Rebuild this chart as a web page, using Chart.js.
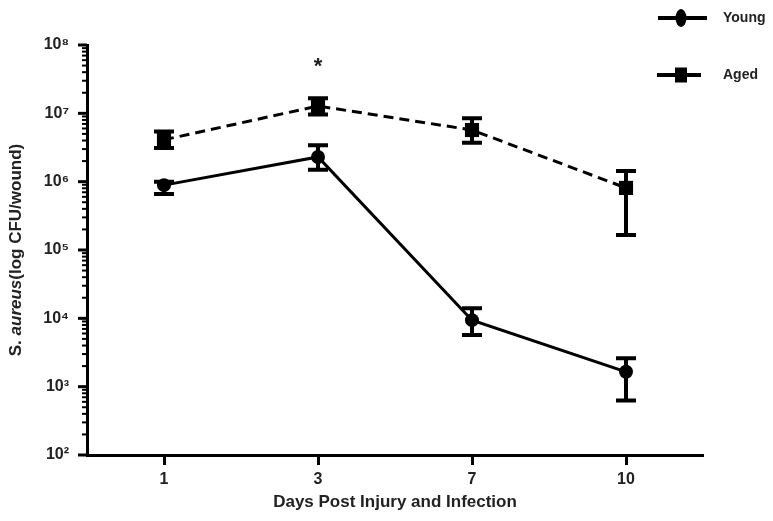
<!DOCTYPE html>
<html><head><meta charset="utf-8">
<script src="https://cdn.jsdelivr.net/npm/chart.js@4/dist/chart.umd.min.js"></script>
<style>html,body{margin:0;padding:0;background:#fff}#wrap{width:773px;height:521px}</style>
</head><body><div id="wrap"><canvas id="c" width="773" height="521"></canvas></div>
<script>
// ---- data ----
const days = ['1', '3', '7', '10'];
const seriesNames = ['Young', 'Aged'];
const young = [8.9e5, 2.3e6, 9.4e3, 1.65e3];
const youngLow = [6.6e5, 1.5e6, 5.7e3, 6.3e2];
const youngHigh = [1.0e6, 3.4e6, 1.4e4, 2.6e3];
const aged = [4.1e6, 1.28e7, 5.7e6, 8.1e5];
const agedLow = [3.1e6, 9.6e6, 3.7e6, 1.66e5];
const agedHigh = [5.4e6, 1.66e7, 8.5e6, 1.43e6];
const significance = ['', '*', '', ''];
const yMin = 1e2, yMax = 1e8;
const xTitle = 'Days Post Injury and Infection';
const yTitleParts = [['S. ', 'normal'], ['aureus', 'italic'], ['(log CFU/wound)', 'normal']];

const FONT = '"Liberation Sans", Arial, sans-serif';
const TXT = '#222';
const SUP = {'0':'⁰','1':'¹','2':'²','3':'³','4':'⁴','5':'⁵','6':'⁶','7':'⁷','8':'⁸','9':'⁹','-':'⁻'};
const toSup = s => String(s).split('').map(c => SUP[c] || c).join('');
const isDecade = v => Math.abs(Math.log10(v) - Math.round(Math.log10(v))) < 1e-9;

const errors = [[youngLow, youngHigh], [agedLow, agedHigh]];

const errorBarPlugin = {
  id: 'errorBars',
  afterDatasetsDraw(chart) {
    const ctx = chart.ctx, ys = chart.scales.y;
    ctx.save();
    ctx.strokeStyle = '#000';
    chart.data.datasets.forEach((ds, i) => {
      const meta = chart.getDatasetMeta(i);
      const [lo, hi] = errors[i];
      meta.data.forEach((pt, j) => {
        const x = pt.x;
        const y1 = ys.getPixelForValue(lo[j]);
        const y2 = ys.getPixelForValue(hi[j]);
        ctx.lineWidth = 4;
        ctx.beginPath(); ctx.moveTo(x, y1); ctx.lineTo(x, y2); ctx.stroke();
        ctx.beginPath();
        ctx.moveTo(x - 10, y1); ctx.lineTo(x + 10, y1);
        ctx.moveTo(x - 10, y2); ctx.lineTo(x + 10, y2);
        ctx.stroke();
      });
    });
    ctx.restore();
  }
};

const decorPlugin = {
  id: 'decor',
  afterDraw(chart) {
    const ctx = chart.ctx, ys = chart.scales.y;
    const ax = chart.chartArea.left;
    ctx.save();
    // y ticks (major / minor)
    ctx.strokeStyle = '#000';
    ys.ticks.forEach(t => {
      const y = ys.getPixelForValue(t.value);
      const major = isDecade(t.value);
      ctx.lineWidth = major ? 3 : 2;
      ctx.beginPath();
      ctx.moveTo(ax - (major ? 9 : 5), y);
      ctx.lineTo(ax, y);
      ctx.stroke();
    });
    // y title with mixed styles
    ctx.translate(16, (chart.chartArea.top + chart.chartArea.bottom) / 2);
    ctx.rotate(-Math.PI / 2);
    ctx.fillStyle = TXT;
    ctx.textBaseline = 'middle';
    let total = 0;
    const widths = yTitleParts.map(([s, st]) => {
      ctx.font = `${st} bold 17px ${FONT}`;
      const w = ctx.measureText(s).width; total += w; return w;
    });
    let x0 = -total / 2;
    yTitleParts.forEach(([s, st], k) => {
      ctx.font = `${st} bold 17px ${FONT}`;
      ctx.textAlign = 'left';
      ctx.fillText(s, x0, 0);
      x0 += widths[k];
    });
    ctx.restore();

    // significance marks
    ctx.save();
    ctx.fillStyle = TXT;
    ctx.font = `bold 22px ${FONT}`;
    ctx.textAlign = 'center';
    ctx.textBaseline = 'alphabetic';
    const meta = chart.getDatasetMeta(1);
    significance.forEach((s, j) => {
      if (!s) return;
      const x = meta.data[j].x;
      const y = ys.getPixelForValue(agedHigh[j]) - 25;
      ctx.fillText(s, x, y);
    });
    ctx.restore();

    // legend
    ctx.save();
    const rows = [{y: 18, x1: 658, x2: 707}, {y: 75, x1: 657, x2: 701}];
    chart.data.datasets.forEach((ds, i) => {
      const r = rows[i];
      ctx.strokeStyle = '#000'; ctx.fillStyle = '#000';
      ctx.lineWidth = 4;
      ctx.beginPath(); ctx.moveTo(r.x1, r.y); ctx.lineTo(r.x2, r.y); ctx.stroke();
      const cx = 681;
      if (ds.pointStyle === 'circle') {
        ctx.beginPath(); ctx.ellipse(cx, r.y, 5.5, 9, 0, 0, Math.PI * 2); ctx.fill();
      } else {
        ctx.fillRect(cx - 6, r.y - 7.5, 12, 15);
      }
      ctx.fillStyle = TXT;
      ctx.font = `bold 14px ${FONT}`;
      ctx.textAlign = 'left'; ctx.textBaseline = 'middle';
      ctx.fillText(ds.label, 723, r.y);
    });
    ctx.restore();
  }
};

new Chart(document.getElementById('c'), {
  type: 'line',
  data: {
    labels: days,
    datasets: [
      { label: seriesNames[0], data: young, borderColor: '#000', backgroundColor: '#000', borderWidth: 3,
        pointStyle: 'circle', pointRadius: 7, pointBackgroundColor: '#000', pointBorderWidth: 0, tension: 0 },
      { label: seriesNames[1], data: aged, borderColor: '#000', backgroundColor: '#000', borderWidth: 3,
        borderDash: [10, 6], pointStyle: 'rect', pointRadius: 10, pointBackgroundColor: '#000', pointBorderWidth: 0, tension: 0 }
    ]
  },
  options: {
    responsive: false, animation: false, devicePixelRatio: 1,
    layout: { padding: { top: 45, right: 70, left: 0, bottom: 0 } },
    plugins: { legend: { display: false }, tooltip: { enabled: false } },
    scales: {
      x: {
        type: 'category', offset: true,
        grid: { display: true, drawOnChartArea: false, drawTicks: true, tickLength: 10, tickWidth: 3, tickColor: '#000', offset: false },
        border: { display: true, width: 3, color: '#000' },
        ticks: { color: TXT, font: { family: FONT, size: 16, weight: 'bold' }, padding: 5 },
        title: { display: true, text: xTitle, color: TXT, font: { family: FONT, size: 17, weight: 'bold' }, padding: { top: 0, bottom: 8 } },
        afterFit: s => { s.height = 66; }
      },
      y: {
        type: 'logarithmic', min: yMin, max: yMax,
        grid: { display: false },
        border: { display: true, width: 3, color: '#000' },
        afterBuildTicks: scale => {
          const t = [];
          for (let e = Math.log10(yMin); e < Math.log10(yMax); e++)
            for (let k = 1; k < 10; k++) t.push({ value: k * Math.pow(10, e) });
          t.push({ value: yMax });
          scale.ticks = t;
        },
        ticks: {
          autoSkip: false, padding: 10, color: TXT,
          font: { family: FONT, size: 16, weight: 'bold' },
          callback: v => isDecade(v) ? '10' + toSup(Math.round(Math.log10(v))) : ''
        },
        afterFit: s => { s.width = 87; }
      }
    }
  },
  plugins: [errorBarPlugin, decorPlugin]
});
</script></body></html>
